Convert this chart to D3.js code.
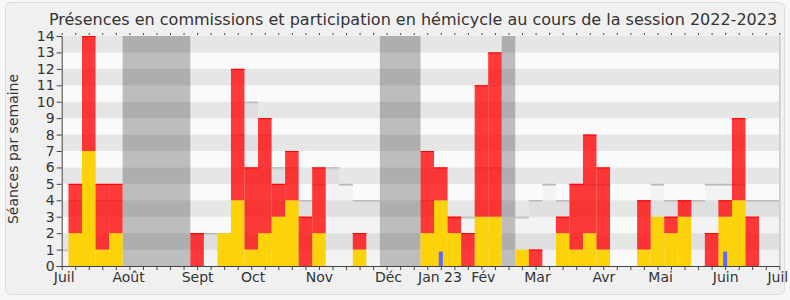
<!DOCTYPE html>
<html><head><meta charset="utf-8">
<script src="https://cdn.jsdelivr.net/npm/d3@7"></script>
<style>
body{margin:0;background:#fff;}
svg{display:block;font-family:"DejaVu Sans",sans-serif;}
</style>
</head><body>
<svg id="chart" width="790" height="300"></svg>
<script>
const title = "Présences en commissions et participation en hémicycle au cours de la session 2022-2023";
const yLabel = "Séances par semaine";
// weeks 1..52
const weeks = d3.range(1, 53);
const hemicycle = [2,7,1,2,0,0,0,0,0,0, 0,2,4,1,2,3,4,0,2,0, 0,1,0,0,0,0,2,4,2,0, 3,3,0,1,0,0,2,1,2,1, 0,0,1,3,2,3,0,0,3,4, 0,0];
const commission = [3,7,4,3,0,0,0,0,0,2, 0,0,8,5,7,2,3,3,4,0, 0,1,0,0,0,0,5,2,1,2, 8,10,0,0,1,0,1,4,6,5, 0,0,3,0,1,1,0,2,1,5, 3,0];
const questions = [0,0,0,0,0,0,0,0,0,0, 0,0,0,0,0,0,0,0,0,0, 0,0,0,0,0,0,0,1,0,0, 0,0,0,0,0,0,0,0,0,0, 0,0,0,0,0,0,0,0,1,0, 0,0];
// median weeks 0..53 (null = vacances)
const medianWeeks = d3.range(0, 54);
const median = [1,4,6,4,4,null,null,null,null,null, 2,2,2,8,10,8,6,6,4,5, 6,5,4,4,null,null,null,4,4,3, 3,6,6,null,3,4,5,4,5,5, 5,0,0,4,5,4,4,4,5,5, 5,4,4,4];
const vacances = [[5,9],[24,26],[33,33]];
const monthLabels = ["Juil","Août","Sept","Oct","Nov","Déc","Jan 23","Fév","Mar","Avr","Mai","Juin","Juil"];
const monthPos = [0.15,4.9,10,14.1,19,24.1,27.9,31.1,35.1,40,44.2,49,52.85];
const yTicks = d3.range(0, 15);

const svg = d3.select("#chart");
const W = 790, H = 300;
const L = 61.7, R = 779.3, T = 36, B = 266;

svg.append("rect").attr("x",0).attr("y",0).attr("width",W).attr("height",H).attr("fill","#f7f7f7");
svg.append("rect").attr("x",5.5).attr("y",2.5).attr("width",779).attr("height",292).attr("rx",5)
  .attr("fill","#f0f0f0").attr("stroke","#dcdcdc");

const x = d3.scaleLinear().domain([0,53]).range([L,R]);
const y = d3.scaleLinear().domain([0,14]).range([B,T]);

svg.append("defs").append("clipPath").attr("id","clip").append("rect")
  .attr("x",L).attr("y",T).attr("width",R-L).attr("height",B-T);
const g = svg.append("g").attr("clip-path","url(#clip)");

// stripes
g.selectAll("rect.band").data(d3.range(0,14)).join("rect")
  .attr("x",L).attr("width",R-L)
  .attr("y",d=>y(d+1)).attr("height",d=>y(d)-y(d+1))
  .attr("fill",d=> d%2===1 ? "#e6e6e6" : "#fafafa");

// median fill + line
const med = medianWeeks.map((w,i)=>({w, v: median[i]})).filter(d=>d.v!==null && d.v>0);
g.selectAll("rect.medfill").data(med).join("rect")
  .attr("x",d=>x(d.w-0.5)).attr("width",d=>x(d.w+0.5)-x(d.w-0.5))
  .attr("y",d=>y(d.v)).attr("height",d=>y(0)-y(d.v))
  .attr("fill","rgba(0,0,0,0.028)");
g.selectAll("line.med").data(med).join("line")
  .attr("x1",d=>x(d.w-0.5)).attr("x2",d=>x(d.w+0.5))
  .attr("y1",d=>y(d.v)+0.5).attr("y2",d=>y(d.v)+0.5)
  .attr("stroke","#a8a8a8").attr("stroke-width",1);
g.selectAll("line.med2").data(med).join("line")
  .attr("x1",d=>x(d.w-0.5)).attr("x2",d=>x(d.w+0.5))
  .attr("y1",d=>y(d.v)+1.5).attr("y2",d=>y(d.v)+1.5)
  .attr("stroke","#cfcfcf").attr("stroke-width",1);

// vacances
g.selectAll("rect.vac").data(vacances).join("rect")
  .attr("x",d=>x(d[0]-0.5)).attr("width",d=>x(d[1]+0.5)-x(d[0]-0.5))
  .attr("y",T).attr("height",B-T)
  .attr("fill","rgba(0,0,0,0.245)");

const data = weeks.map((w,i)=>({w, h: hemicycle[i], c: commission[i], q: questions[i]}));

// yellow
g.selectAll("rect.hem").data(data.filter(d=>d.h>0)).join("rect")
  .attr("x",d=>x(d.w-0.5)).attr("width",d=>x(d.w+0.5)-x(d.w-0.5))
  .attr("y",d=>y(d.h)).attr("height",d=>y(0)-y(d.h))
  .attr("fill","#fcd20b");
// red
g.selectAll("rect.com").data(data.filter(d=>d.c>0)).join("rect")
  .attr("x",d=>x(d.w-0.5)).attr("width",d=>x(d.w+0.5)-x(d.w-0.5))
  .attr("y",d=>y(d.h+d.c)).attr("height",d=>y(d.h)-y(d.h+d.c))
  .attr("fill","rgba(255,0,0,0.77)");
g.selectAll("line.comtop").data(data.filter(d=>d.c>0)).join("line")
  .attr("x1",d=>x(d.w-0.5)).attr("x2",d=>x(d.w+0.5))
  .attr("y1",d=>y(d.h+d.c)+0.5).attr("y2",d=>y(d.h+d.c)+0.5)
  .attr("stroke","#ff0000").attr("stroke-width",1);
// blue
g.selectAll("rect.q").data(data.filter(d=>d.q>0)).join("rect")
  .attr("x",d=>x(d.w)-2).attr("width",4)
  .attr("y",d=>y(d.q)+2).attr("height",d=>y(0)-y(d.q)-2)
  .attr("fill","#6464ff");

// right border
svg.append("line").attr("x1",R+0.5).attr("x2",R+0.5).attr("y1",T).attr("y2",B)
  .attr("stroke","#c8c8c8").attr("stroke-width",1.5);

// axes
const axL = svg.append("g").attr("transform",`translate(${L},0)`)
  .call(d3.axisLeft(y).tickValues(yTicks).tickSize(5).tickPadding(2).tickFormat(d3.format("d")));
axL.selectAll("text").attr("font-size",14).attr("fill","#333").attr("font-family","DejaVu Sans");
axL.selectAll("line").attr("stroke","#444");
axL.select(".domain").attr("stroke","#444");

const axB = svg.append("g").attr("transform",`translate(0,${B})`)
  .call(d3.axisBottom(x).tickValues(d3.range(0,54)).tickSize(4).tickFormat(""));
axB.selectAll("line").attr("stroke","#444");
axB.select(".domain").attr("stroke","#444").attr("d",`M${L},0.5H${R}`);

const axT = svg.append("g").attr("transform",`translate(0,${T-1})`)
  .call(d3.axisTop(x).tickValues(d3.range(0,54)).tickSize(2).tickFormat(""));
axT.select(".domain").remove();
axT.selectAll("line").attr("stroke","#444");

const axM = svg.append("g").attr("transform",`translate(0,${B})`)
  .call(d3.axisBottom(x).tickValues(monthPos).tickSize(0).tickPadding(6).tickFormat((d,i)=>monthLabels[i]));
axM.select(".domain").remove();
axM.selectAll("text").attr("font-size",14).attr("fill","#333").attr("font-family","DejaVu Sans");

// title
svg.append("text").attr("x",413).attr("y",25).attr("text-anchor","middle")
  .attr("font-size",16).attr("fill","#333").text(title);
// y label
svg.append("text").attr("transform","translate(18,149) rotate(-90)").attr("text-anchor","middle")
  .attr("font-size",14).attr("fill","#333").text(yLabel);
</script>
</body></html>
